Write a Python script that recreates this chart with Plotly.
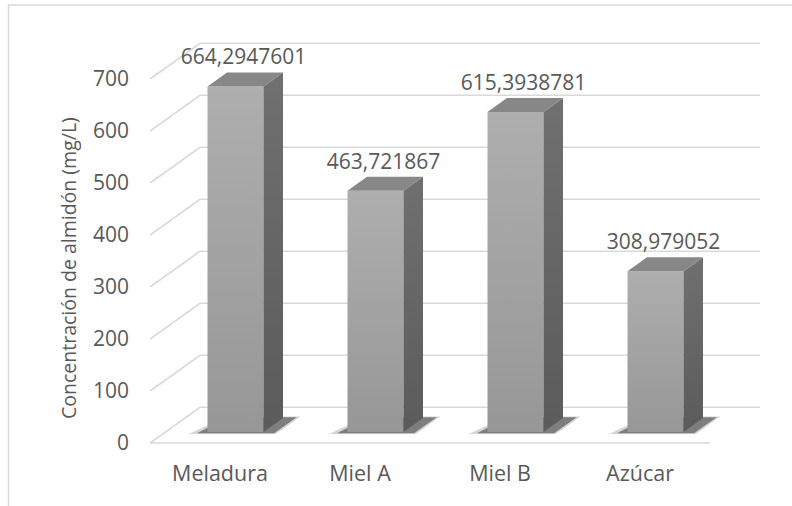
import plotly.graph_objects as go

# ---- data ----
categories = ["Meladura", "Miel A", "Miel B", "Azúcar"]
values = [664.2947601, 463.721867, 615.3938781, 308.979052]
value_labels = ["664,2947601", "463,721867", "615,3938781", "308,979052"]
y_ticks = [0, 100, 200, 300, 400, 500, 600, 700]
y_title = "Concentración de almidón (mg/L)"

# ---- pseudo-3D projection (depth d: 0 = front floor edge, 1 = back wall) ----
W, H = 792, 506
PX_PER_CAT = 140.0
PX_PER_VAL = 0.52
DEPTH_PX_X = 50.0
DEPTH_PX_Y = 35.7
DXC = DEPTH_PX_X / PX_PER_CAT
DYV = DEPTH_PX_Y / PX_PER_VAL

def P(c, v, d):
    return c + d * DXC, v + d * DYV

HALF = 0.2          # half bar width (category units)
D0, D1 = 0.31, 0.70  # bar front / back depth
C_MIN, C_MAX = -0.5, 3.5

TXT = "#595959"
GRID = "#d9d9d9"
FONT = "Open Sans"

fig = go.Figure()

# gridlines: side wall diagonals + back wall lines
gx, gy = [], []
for v in y_ticks:
    for (c, d) in [(C_MIN, 0), (C_MIN, 1), (C_MAX, 1)]:
        x, y = P(c, v, d)
        gx.append(x); gy.append(y)
    gx.append(None); gy.append(None)
# front floor edge
for c in (C_MIN, C_MAX):
    x, y = P(c, 0, 0)
    gx.append(x); gy.append(y)
fig.add_trace(go.Scatter(x=gx, y=gy, mode="lines", line=dict(color=GRID, width=1.6),
                         hoverinfo="skip", showlegend=False))

def poly(pts, **kw):
    xs, ys = [], []
    for (c, v, d) in pts:
        x, y = P(c, v, d)
        xs.append(x); ys.append(y)
    xs.append(xs[0]); ys.append(ys[0])
    fig.add_trace(go.Scatter(x=xs, y=ys, mode="lines", fill="toself",
                             line=dict(width=0), hoverinfo="skip", showlegend=False, **kw))

for i, v in enumerate(values):
    c = float(i)
    # soft shadow on the floor
    poly([(c - 0.31, 0, 0.25), (c + 0.31, 0, 0.25), (c + 0.31, 0, 0.74), (c - 0.22, 0, 0.74)],
         fillcolor="rgba(60,60,60,0.22)")
    poly([(c - 0.26, 0, 0.27), (c + 0.29, 0, 0.27), (c + 0.29, 0, 0.72), (c - 0.2, 0, 0.72)],
         fillcolor="rgba(40,40,40,0.5)")
    # front face
    poly([(c - HALF, 0, D0), (c + HALF, 0, D0), (c + HALF, v, D0), (c - HALF, v, D0)],
         fillgradient=dict(type="vertical", colorscale=[[0, "#979797"], [1, "#aeaeae"]]))
    # side face
    poly([(c + HALF, 0, D0), (c + HALF, 0, D1), (c + HALF, v, D1), (c + HALF, v, D0)],
         fillgradient=dict(type="vertical", colorscale=[[0, "#5b5b5b"], [1, "#707070"]]))
    # top face
    poly([(c - HALF, v, D0), (c + HALF, v, D0), (c + HALF, v, D1), (c - HALF, v, D1)],
         fillcolor="#878787")

# data labels
lx, ly = [], []
for i, v in enumerate(values):
    x, y = P(i, v, D1)
    lx.append(i + 0.47 * DXC)
    ly.append(y + 3 / PX_PER_VAL)
fig.add_trace(go.Scatter(x=lx, y=ly, mode="text", text=value_labels, textposition="top center",
                         textfont=dict(family=FONT, size=21, color=TXT),
                         hoverinfo="skip", showlegend=False, cliponaxis=False))

# axes in pixel-calibrated domains
x_left_px, x_right_px = 150, 770
y_bot_px, y_top_px = 453, 20
x0 = C_MIN
x1 = C_MIN + (x_right_px - x_left_px) / PX_PER_CAT
y0 = (443 - y_bot_px) / PX_PER_VAL
y1 = (443 - y_top_px) / PX_PER_VAL

fig.update_layout(
    width=W, height=H, margin=dict(l=0, r=0, t=0, b=0),
    paper_bgcolor="white", plot_bgcolor="rgba(0,0,0,0)",
    xaxis=dict(domain=[x_left_px / W, x_right_px / W], range=[x0, x1],
               tickmode="array", tickvals=list(range(len(categories))), ticktext=categories,
               showgrid=False, zeroline=False, showline=False, ticks="",
               tickfont=dict(family=FONT, size=21.5, color=TXT), ticklabelstandoff=5,
               automargin=False, fixedrange=True),
    yaxis=dict(domain=[(H - y_bot_px) / H, (H - y_top_px) / H], range=[y0, y1],
               tickmode="array", tickvals=y_ticks, ticktext=[str(t) for t in y_ticks],
               showgrid=False, zeroline=False, showline=False, ticks="",
               tickfont=dict(family=FONT, size=21, color=TXT), ticklabelstandoff=20,
               automargin=False, fixedrange=True),
    annotations=[dict(text=y_title, textangle=-90, xref="paper", yref="paper",
                      x=68 / W, y=(H - 268) / H, xanchor="center", yanchor="middle",
                      showarrow=False, font=dict(family=FONT, size=19.5, color=TXT))],
    shapes=[
        dict(type="line", xref="paper", yref="paper", x0=8.5 / W, x1=1.01, y0=1 - 5 / H, y1=1 - 5 / H,
             line=dict(color=GRID, width=1.5)),
        dict(type="line", xref="paper", yref="paper", x0=8.5 / W, x1=8.5 / W, y0=1 - 5 / H, y1=-0.01,
             line=dict(color=GRID, width=1.5)),
    ],
)

fig.write_html("out.html")
